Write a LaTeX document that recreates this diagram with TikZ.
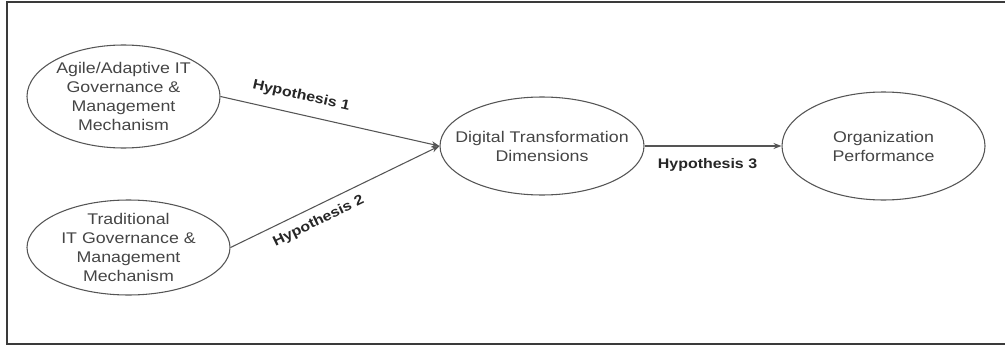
\documentclass[tikz,border=0pt]{standalone}
\usepackage{fontspec}
\setmainfont{Liberation Sans}
\newfontfamily\boxfont[FakeStretch=1.15]{Liberation Sans}
\usepackage{tikz}
\usetikzlibrary{arrows.meta,shapes.geometric}
\definecolor{linegray}{HTML}{555555}
\definecolor{textgray}{HTML}{454545}
\definecolor{framegray}{HTML}{3A3A3A}

\begin{document}
\begin{tikzpicture}[x=0.75pt, y=-0.75pt, >={Stealth[length=6pt, width=4.5pt]},
    construct/.style={ellipse, draw=linegray, line width=0.8pt, inner xsep=-12pt, inner ysep=-3pt,
        align=center, text=textgray, font=\boxfont\fontsize{11.6}{14.25}\selectfont},
    hyp/.style={sloped, inner xsep=0pt, text=black!85,
        font=\boxfont\bfseries\fontsize{10.4}{12}\selectfont}]
    \useasboundingbox (0,0) rectangle (1005,346);

    % Outer frame (open on the right)
    \draw[framegray, line width=1.5pt] (1005,2) -- (7,2) -- (7,344) -- (1005,344);

    % Constructs
    \node[construct, minimum width=144.75pt, minimum height=77.25pt] (agile) at (123.5,96.5)
        {Agile/Adaptive IT\\Governance \&\\Management\\Mechanism};
    \node[construct, minimum width=152.25pt, minimum height=71.25pt] (trad) at (128.5,247.5)
        {Traditional\\IT Governance \&\\Management\\Mechanism};
    \node[construct, minimum width=153pt, minimum height=73.5pt] (digital) at (542,146)
        {Digital Transformation\\Dimensions};
    \node[construct, minimum width=152.25pt, minimum height=81pt] (perf) at (883.5,146)
        {Organization\\Performance};

    % Hypotheses
    \draw[->, linegray, line width=0.8pt] (agile.east) -- (digital.west)
        node[hyp, pos=0.35, above, inner ysep=8.5pt] {Hypothesis 1};
    \draw[->, linegray, line width=0.8pt] (trad.east) -- (digital.west)
        node[hyp, pos=0.39, below, inner ysep=6pt] {Hypothesis 2};
    \draw[->, linegray, line width=0.8pt] (digital.east) -- (perf.west)
        node[hyp, pos=0.46, below, inner ysep=9pt] {Hypothesis 3};
\end{tikzpicture}
\end{document}
